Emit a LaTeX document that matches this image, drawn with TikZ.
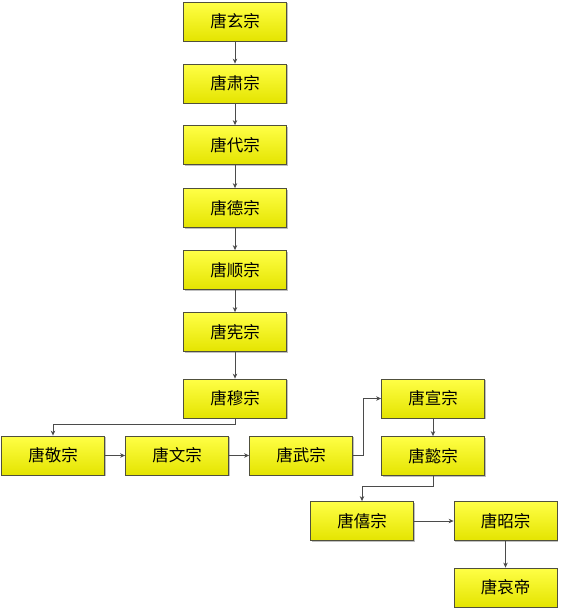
\documentclass[tikz,border=0pt]{standalone}
\usepackage{fontspec}
\newfontfamily\cjk{Noto Sans CJK SC}
\usetikzlibrary{arrows.meta,shadows}

\definecolor{boxtop}{RGB}{255,255,70}
\definecolor{boxbottom}{RGB}{228,228,0}
\definecolor{boxline}{RGB}{80,80,60}
\definecolor{linkgray}{RGB}{75,75,75}

\begin{document}
\begin{tikzpicture}[x=1pt,y=-1pt,
		emperor/.style={draw=boxline, line width=0.8pt, top color=boxtop, bottom color=boxbottom,
			minimum width=103pt, minimum height=39pt, inner sep=0pt,
			font=\cjk\fontsize{16.5}{20}\selectfont,
			drop shadow={shadow xshift=1.2pt, shadow yshift=-1.2pt, fill=black, opacity=0.25}},
		link/.style={draw=linkgray, line width=0.8pt, -{Stealth[length=5pt,width=4.5pt]}}]

		\useasboundingbox [fill=white] (0,0) rectangle (561,611);

		% main line
		\node [emperor] (xuan) at (235, 21.5) {唐玄宗};
		\node [emperor] (su) at (235, 83.5) {唐肃宗};
		\node [emperor] (dai) at (235, 145) {唐代宗};
		\node [emperor] (de) at (235, 208) {唐德宗};
		\node [emperor] (shun) at (235, 270) {唐顺宗};
		\node [emperor] (xian) at (235, 332) {唐宪宗};
		\node [emperor] (mu) at (235, 398.5) {唐穆宗};

		% bottom row
		\node [emperor] (jing) at (53, 455.5) {唐敬宗};
		\node [emperor] (wen) at (177, 455.5) {唐文宗};
		\node [emperor] (wu) at (301, 455.5) {唐武宗};

		% right branch
		\node [emperor] (xuanz) at (433, 398.5) {唐宣宗};
		\node [emperor] (yi) at (433, 456) {唐懿宗};
		\node [emperor] (xi) at (362, 521) {唐僖宗};
		\node [emperor] (zhao) at (505.5, 521) {唐昭宗};
		\node [emperor] (ai) at (505.5, 587.5) {唐哀帝};

		\draw [link] (xuan) -- (su);
		\draw [link] (su) -- (dai);
		\draw [link] (dai) -- (de);
		\draw [link] (de) -- (shun);
		\draw [link] (shun) -- (xian);
		\draw [link] (xian) -- (mu);
		\draw [link] (mu.south) -- ++(0,6) -| (jing.north);
		\draw [link] (jing) -- (wen);
		\draw [link] (wen) -- (wu);
		\draw [link] (wu.east) -- ++(10,0) |- (xuanz.west);
		\draw [link] (xuanz) -- (yi);
		\draw [link] (yi.south) -- ++(0,10) -| (xi.north);
		\draw [link] (xi) -- (zhao);
		\draw [link] (zhao) -- (ai);
\end{tikzpicture}
\end{document}
